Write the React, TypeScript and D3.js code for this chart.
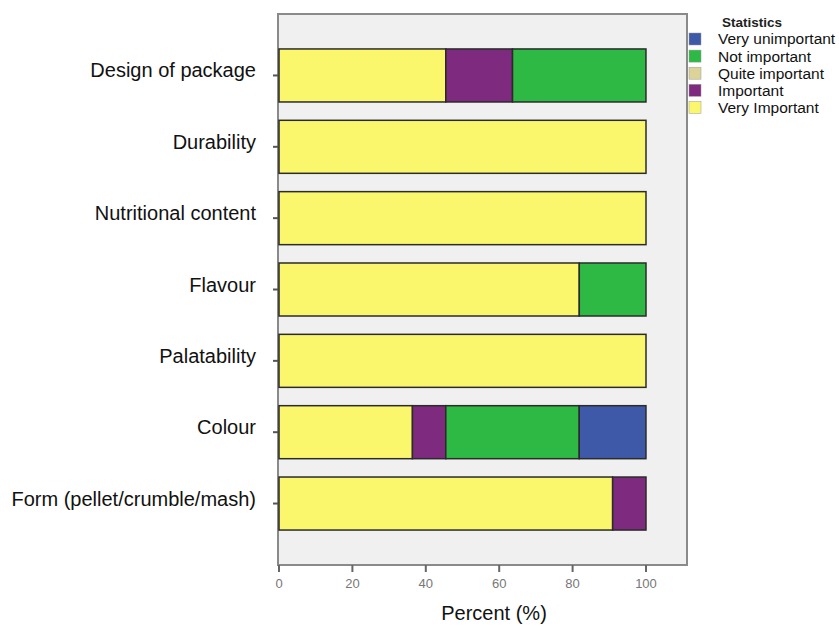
import * as d3 from "d3";

const categories = [
  "Design of package",
  "Durability",
  "Nutritional content",
  "Flavour",
  "Palatability",
  "Colour",
  "Form (pellet/crumble/mash)",
];

// percent per category, stacked left to right in this order
const veryImportant = [45.45, 100, 100, 81.82, 100, 36.36, 90.91];
const important = [18.18, 0, 0, 0, 0, 9.09, 9.09];
const quiteImportant = [0, 0, 0, 0, 0, 0, 0];
const notImportant = [36.36, 0, 0, 18.18, 0, 36.36, 0];
const veryUnimportant = [0, 0, 0, 0, 0, 18.18, 0];

const legendLabels = [
  "Very unimportant",
  "Not important",
  "Quite important",
  "Important",
  "Very Important",
];
const xTicks = [0, 20, 40, 60, 80, 100];

const colors: Record<string, string> = {
  "Very unimportant": "#3e59a8",
  "Not important": "#2eb844",
  "Quite important": "#dcd399",
  Important: "#7d2a7f",
  "Very Important": "#fbf76c",
};

const stackOrder = [
  "Very Important",
  "Important",
  "Quite important",
  "Not important",
  "Very unimportant",
];

export default function App() {
  const W = 839;
  const H = 626;
  const frame = { left: 278, top: 14, right: 687, bottom: 565 };

  const rows = categories.map((c, i) => ({
    category: c,
    "Very Important": veryImportant[i],
    Important: important[i],
    "Quite important": quiteImportant[i],
    "Not important": notImportant[i],
    "Very unimportant": veryUnimportant[i],
  }));

  const x = d3.scaleLinear().domain([0, 100]).range([279, 646]);
  const y = d3
    .scaleBand()
    .domain(categories)
    .range([frame.top, frame.bottom])
    .paddingInner(0.257)
    .paddingOuter(0.49);

  const series = d3.stack<any>().keys(stackOrder)(rows);
  const barH = y.bandwidth();

  return (
    <div style={{ position: "fixed", left: 0, top: 0, background: "#fff" }}>
      <svg width={W} height={H} style={{ display: "block", fontFamily: "Arial, 'Liberation Sans', sans-serif" }}>
        <rect width={W} height={H} fill="#fff" />
        {/* plot frame */}
        <rect
          x={frame.left}
          y={frame.top}
          width={frame.right - frame.left}
          height={frame.bottom - frame.top}
          fill="#f0f0f0"
          stroke="#8a8a8a"
          strokeWidth={2}
        />

        {/* bars */}
        {series.map((s) =>
          s.map((d, i) =>
            d[1] - d[0] > 0 ? (
              <rect
                key={s.key + i}
                x={x(d[0])}
                y={y(categories[i]) ?? 0}
                width={x(d[1]) - x(d[0])}
                height={barH}
                fill={colors[s.key]}
                stroke="#2b2b2b"
                strokeWidth={1.5}
              />
            ) : null,
          ),
        )}

        {/* y axis ticks + labels */}
        {categories.map((c) => {
          const cy = (y(c) ?? 0) + barH / 2;
          return (
            <g key={c}>
              <line x1={273} x2={frame.left} y1={cy} y2={cy} stroke="#555" strokeWidth={2} />
              <text x={256} y={cy + 2} textAnchor="end" fontSize={20} fill="#111">
                {c}
              </text>
            </g>
          );
        })}

        {/* x axis ticks */}
        {xTicks.map((t) => (
          <g key={t}>
            <line x1={x(t)} x2={x(t)} y1={frame.bottom} y2={frame.bottom + 7} stroke="#666" strokeWidth={2} />
            <text x={x(t)} y={588} textAnchor="middle" fontSize={13} fill="#777">
              {t}
            </text>
          </g>
        ))}
        <text x={494} y={620} textAnchor="middle" fontSize={20} fill="#111">
          Percent (%)
        </text>

        {/* legend */}
        <text x={722} y={27} fontSize={13.5} fontWeight="bold" fill="#222">
          Statistics
        </text>
        {legendLabels.map((l, i) => {
          const ly = 39 + i * 17.1;
          return (
            <g key={l}>
              <rect x={689} y={ly - 6} width={12} height={12} fill={colors[l]} stroke="#999" strokeWidth={0.5} />
              <text x={718} y={ly} dy="0.35em" fontSize={15.5} fill="#111">
                {l}
              </text>
            </g>
          );
        })}
      </svg>
    </div>
  );
}
